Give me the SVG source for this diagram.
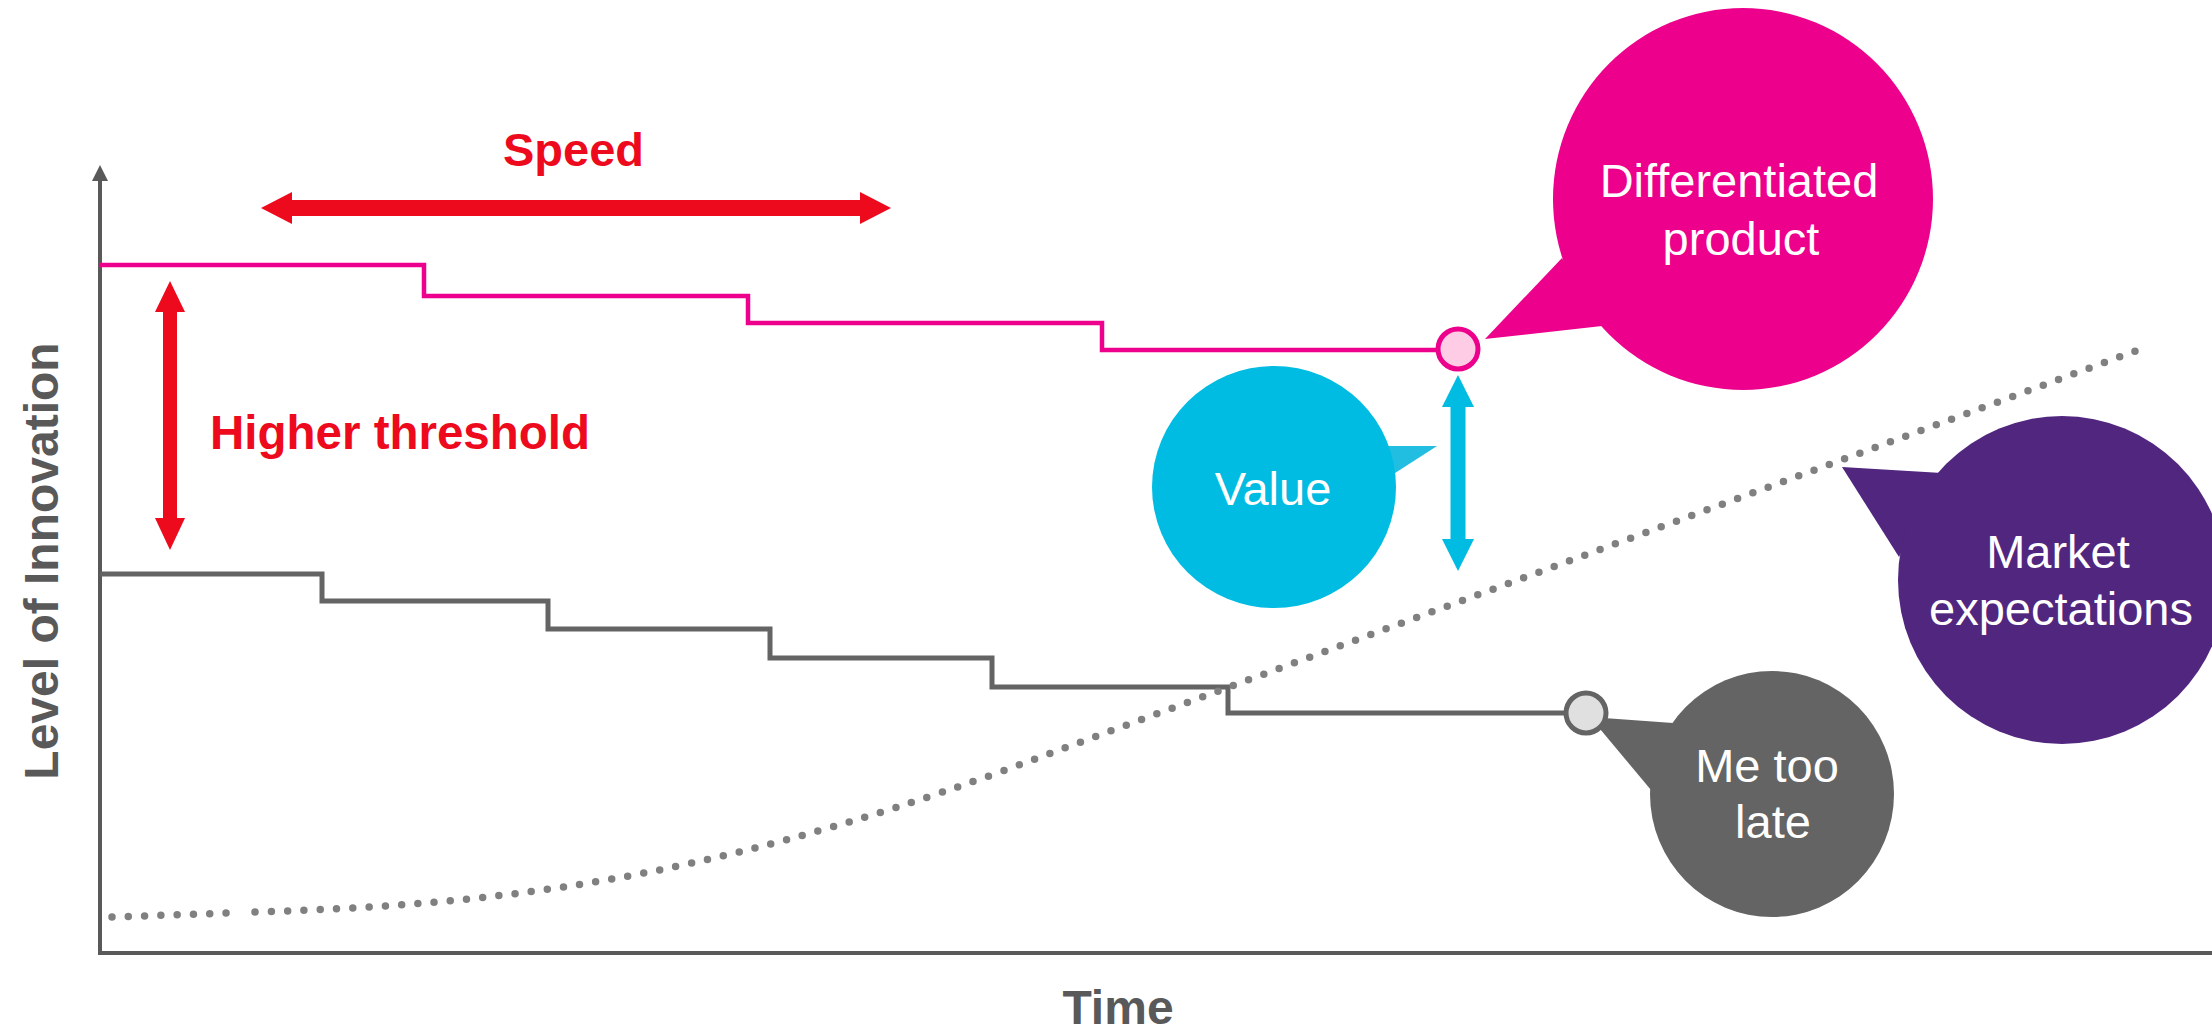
<svg xmlns="http://www.w3.org/2000/svg" width="2212" height="1027" viewBox="0 0 2212 1027">
<style>
.lbl{font-family:"Liberation Sans",Arial,sans-serif;font-size:47px;fill:#ffffff;text-anchor:middle}
.red{font-family:"Liberation Sans",Arial,sans-serif;font-weight:bold;fill:#EE0A1D}
.axis{font-family:"Liberation Sans",Arial,sans-serif;font-weight:bold;font-size:48px;fill:#595959;text-anchor:middle}
.ax{stroke:#595959;stroke-width:4;fill:none}
.dots{fill:none;stroke:#808080;stroke-width:7.5;stroke-linecap:round;stroke-dasharray:0 16.3}
</style>
<rect width="2212" height="1027" fill="#ffffff"/>
<g id="connectors">
  <line class="ax" x1="100" y1="180" x2="100" y2="955"/>
  <polygon points="100,165 92,181 108,181" fill="#595959"/>
  <line class="ax" x1="98" y1="953" x2="2212" y2="953"/>
  <path d="M100,574 H322 V601 H548 V629 H770 V658 H992 V687 H1228 V713 H1586" fill="none" stroke="#646464" stroke-width="5"/>
  <path d="M100,265 H424 V296 H748 V323 H1102 V350 H1458" fill="none" stroke="#EC008C" stroke-width="4.5"/>
  <path class="dots" d="M112,917 L228,913"/>
  <path class="dots" d="M255,912 C500,905 700,880 1000,772 L2138,350"/>
  <polygon points="261,208 292,192 292,200 860,200 860,192 891,208 860,224 860,216 292,216 292,224" fill="#EE0A1D"/>
  <polygon points="170,281 185,312 177,312 177,518 185,518 170,550 155,518 163,518 163,312 155,312" fill="#EE0A1D"/>
  <polygon points="1458,375 1474,407 1465.5,407 1465.5,539 1474,539 1458,571 1442,539 1450.5,539 1450.5,407 1442,407" fill="#00BCE2"/>
</g>
<g id="speed"><text class="red" x="503" y="166" font-size="47">Speed</text></g>
<g id="higher-threshold"><text class="red" x="210" y="449" font-size="47.5">Higher threshold</text></g>
<g id="y-label"><text class="axis" transform="translate(58,561) rotate(-90)">Level of Innovation</text></g>
<g id="x-label"><text class="axis" x="1118" y="1024">Time</text></g>
<g id="differentiated-product">
  <polygon points="1562,258 1485,339 1602,326" fill="#EC008C"/>
  <ellipse cx="1743" cy="199" rx="190" ry="191" fill="#EC008C"/>
  <text class="lbl" x="1739" y="197">Differentiated</text>
  <text class="lbl" x="1741" y="255">product</text>
</g>
<g id="value">
  <polygon points="1385,446 1437,446 1392,475" fill="#22BEE2"/>
  <ellipse cx="1274" cy="487" rx="122" ry="121" fill="#00BCE2"/>
  <text class="lbl" x="1273" y="505">Value</text>
</g>
<g id="market-expectations">
  <polygon points="1942,473 1842,467 1899,557" fill="#51267F"/>
  <ellipse cx="2062" cy="580" rx="164" ry="164" fill="#51267F"/>
  <text class="lbl" x="2058" y="568">Market</text>
  <text class="lbl" x="2061" y="625">expectations</text>
</g>
<g id="me-too-late">
  <polygon points="1590,717 1673,723 1651,790" fill="#646464"/>
  <ellipse cx="1772" cy="794" rx="122" ry="123" fill="#646464"/>
  <text class="lbl" x="1767" y="782">Me too</text>
  <text class="lbl" x="1773" y="838">late</text>
</g>
<g id="pink-marker"><circle cx="1458" cy="349" r="20" fill="#FFCCE5" stroke="#EC008C" stroke-width="5"/></g>
<g id="grey-marker"><circle cx="1586" cy="713" r="20" fill="#E0E0E0" stroke="#646464" stroke-width="5"/></g>
</svg>
